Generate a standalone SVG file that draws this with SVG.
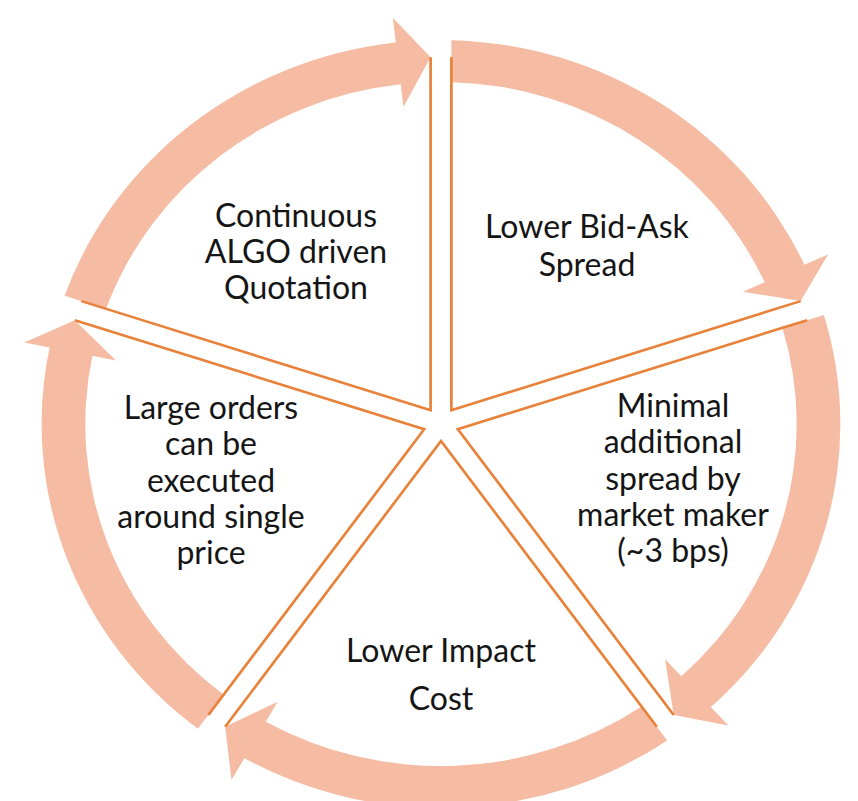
<svg xmlns="http://www.w3.org/2000/svg" xmlns:xlink="http://www.w3.org/1999/xlink" width="858" height="801" viewBox="0 0 858 801">
<style>
.arrow{fill:#F5BCA3;stroke:none}
.wedge{fill:none;stroke:#E8823A;stroke-width:2.6;stroke-linejoin:miter}
.lbl{font-family:Lato,"Open Sans",sans-serif;font-size:32px;fill:#151515;text-anchor:middle}
</style>
<defs>
<path id="arc" d="M10,-383.87 A384,384 0 0 1 349.43,-159.24 L372.17,-169.61 L345.81,-122.88 L290.28,-132.29 L311.21,-141.83 A342,342 0 0 0 10,-341.85 Z"/>
<path id="edge" d="M10,-366.86 L10,-13.76 L345.81,-122.88"/>
</defs>
<rect width="858" height="801" fill="#ffffff"/>
<g id="connectors">
<use xlink:href="#arc" class="arrow" transform="translate(441,424) scale(1.04,1) rotate(0)"/>
<use xlink:href="#arc" class="arrow" transform="translate(441,424) scale(1.04,1) rotate(72)"/>
<use xlink:href="#arc" class="arrow" transform="translate(441,424) scale(1.04,1) rotate(144)"/>
<use xlink:href="#arc" class="arrow" transform="translate(441,424) scale(1.04,1) rotate(216)"/>
<use xlink:href="#arc" class="arrow" transform="translate(441,424) scale(1.04,1) rotate(288)"/>
</g>
<g id="node-bidask">
<use xlink:href="#edge" class="wedge" transform="translate(441,424) scale(1.04,1) rotate(0)"/>
<text class="lbl"><tspan x="587" y="238">Lower Bid-Ask</tspan><tspan x="587" y="276">Spread</tspan></text>
</g>
<g id="node-minimal">
<use xlink:href="#edge" class="wedge" transform="translate(441,424) scale(1.04,1) rotate(72)"/>
<text class="lbl"><tspan x="673" y="417">Minimal</tspan><tspan x="673" y="453">additional</tspan><tspan x="673" y="490">spread by</tspan><tspan x="673" y="526">market maker</tspan><tspan x="673" y="562">(~3 bps)</tspan></text>
</g>
<g id="node-impact">
<use xlink:href="#edge" class="wedge" transform="translate(441,424) scale(1.04,1) rotate(144)"/>
<text class="lbl"><tspan x="441" y="662">Lower Impact</tspan><tspan x="441" y="710">Cost</tspan></text>
</g>
<g id="node-large">
<use xlink:href="#edge" class="wedge" transform="translate(441,424) scale(1.04,1) rotate(216)"/>
<text class="lbl"><tspan x="211" y="419">Large orders</tspan><tspan x="211" y="455">can be</tspan><tspan x="211" y="492">executed</tspan><tspan x="211" y="528">around single</tspan><tspan x="211" y="564">price</tspan></text>
</g>
<g id="node-algo">
<use xlink:href="#edge" class="wedge" transform="translate(441,424) scale(1.04,1) rotate(288)"/>
<text class="lbl"><tspan x="296" y="227">Continuous</tspan><tspan x="296" y="263">ALGO driven</tspan><tspan x="296" y="299">Quotation</tspan></text>
</g>
</svg>
